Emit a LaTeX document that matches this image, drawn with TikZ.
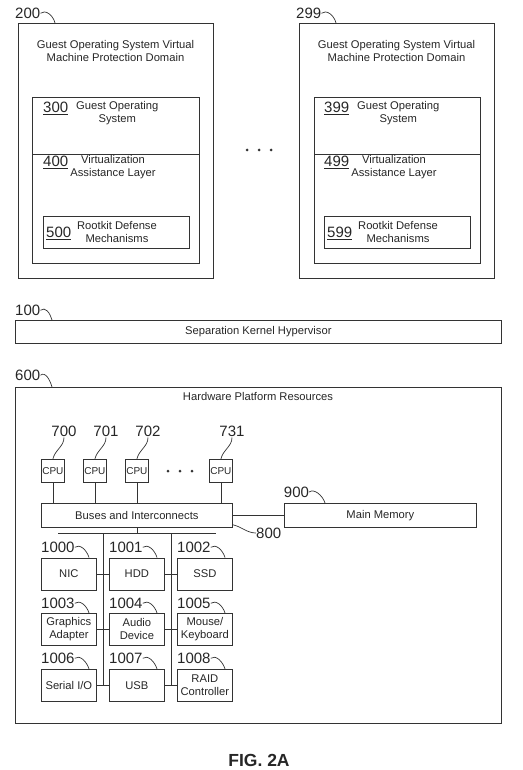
\documentclass[tikz,border=0pt]{standalone}
\usepackage{fontspec}
\setmainfont{Liberation Sans}
\begin{document}
\begin{tikzpicture}[x=1pt,y=-1pt]
\tikzset{
  ln/.style={line width=0.75pt, draw=black!80},
  bx/.style={ln, inner sep=0pt, anchor=north west, align=center,
     font=\fontsize{11.2}{13}\selectfont, text=black!85},
  txt/.style={font=\fontsize{11.2}{12.5}\selectfont, align=center, inner sep=0pt, text=black!85},
  num/.style={font=\fontsize{15}{16}\selectfont, inner sep=0pt, text=black!85},
  cpubox/.style={bx, minimum width=23pt, minimum height=23pt, font=\fontsize{10}{11}\selectfont},
  dev/.style={bx, minimum width=55pt, minimum height=32pt},
  lead/.style={ln, line width=0.7pt},
}
\useasboundingbox (0,0) rectangle (522,770);

% ---------- protection domain 200 ----------
\node[bx, minimum width=195pt, minimum height=255pt] (d200) at (18,23) {};
\node[num, anchor=base west] (n200) at (15,18.4) {200};
\draw[lead] (n200.east) .. controls +(5,-4) and +(-2,-8) .. ([xshift=37pt]d200.north west);
\node[txt] (t200) at (115.5,51) {Guest Operating System Virtual\\Machine Protection Domain};
\node[bx, minimum width=167pt, minimum height=57pt] (os300) at (32,97) {};
\node[bx, minimum width=167pt, minimum height=109pt] (va400) at (32,154) {};
\node[num, anchor=base west] (n300) at (43,112.4) {\underline{300}};
\node[txt, anchor=north west] (os300t) at (76,101.5) {Guest Operating\\System};
\node[num, anchor=base west] (n400) at (43,166.5) {\underline{400}};
\node[txt] (va400t) at (113,167) {Virtualization\\Assistance Layer};
\node[bx, minimum width=146pt, minimum height=32pt] (rk500) at (43,216) {};
\node[num, anchor=base west] (n500) at (46,237.4) {\underline{500}};
\node[txt] (rk500t) at (117,232) {Rootkit Defense\\Mechanisms};

% ---------- protection domain 299 ----------
\node[bx, minimum width=195pt, minimum height=255pt] (d299) at (299,23) {};
\node[num, anchor=base west] (n299) at (296,18.4) {299};
\draw[lead] (n299.east) .. controls +(5,-4) and +(-2,-8) .. ([xshift=37pt]d299.north west);
\node[txt] (t299) at (396.5,51) {Guest Operating System Virtual\\Machine Protection Domain};
\node[bx, minimum width=166pt, minimum height=57pt] (os399) at (314,97) {};
\node[bx, minimum width=166pt, minimum height=109pt] (va499) at (314,154) {};
\node[num, anchor=base west] (n399) at (324,112.4) {\underline{399}};
\node[txt, anchor=north west] (os399t) at (357,101.5) {Guest Operating\\System};
\node[num, anchor=base west] (n499) at (324,166.5) {\underline{499}};
\node[txt] (va499t) at (394,167) {Virtualization\\Assistance Layer};
\node[bx, minimum width=146pt, minimum height=32pt] (rk599) at (324,216) {};
\node[num, anchor=base west] (n599) at (327,237.4) {\underline{599}};
\node[txt] (rk599t) at (398,232) {Rootkit Defense\\Mechanisms};

% dots between domains
\foreach \x in {247,259,271} \fill[black!80] (\x,150) circle (1.5pt);

% ---------- separation kernel hypervisor ----------
\node[bx, minimum width=486pt, minimum height=23pt] (skh) at (15,320) {Separation Kernel Hypervisor};
\node[num, anchor=base west] (n100) at (15,315.4) {100};
\draw[lead] (n100.east) .. controls +(5,-4) and +(-2,-7) .. ([xshift=37pt]skh.north west);

% ---------- hardware platform ----------
\node[bx, minimum width=486pt, minimum height=336pt] (hw) at (15,387) {};
\node[num, anchor=base west] (n600) at (15,380.4) {600};
\draw[lead] (n600.east) .. controls +(5,-4) and +(-2,-7) .. ([xshift=37pt]hw.north west);
\node[txt] (hwt) at (258,396) {Hardware Platform Resources};

% CPUs
\node[cpubox] (c700) at (41,459) {CPU};
\node[cpubox] (c701) at (83,459) {CPU};
\node[cpubox] (c702) at (125,459) {CPU};
\node[cpubox] (c731) at (209,459) {CPU};
\node[num] (n700) at (64,431) {700};
\node[num] (n701) at (106,431) {701};
\node[num] (n702) at (148,431) {702};
\node[num] (n731) at (232,431) {731};
\foreach \c in {700,701,702,731}
  \draw[lead] ([yshift=-1pt]n\c.south) .. controls +(0,9) and +(2,-9) .. (c\c.north);
\foreach \x in {168,180,192} \fill[black!80] (\x,471) circle (1.5pt);

% buses and memory
\node[bx, minimum width=191pt, minimum height=24pt] (bus) at (41,503) {Buses and Interconnects};
\node[bx, minimum width=192pt, minimum height=24pt] (mem) at (284,503) {Main Memory};
\foreach \c in {700,701,702,731}
  \draw[ln] (c\c.south) -- (c\c.south |- bus.north);
\draw[ln] (bus.east) -- (mem.west);
\node[num] (n900) at (296.5,492) {900};
\draw[lead] (n900.east) .. controls +(5,-4) and +(-2,-7) .. ([xshift=41pt]mem.north west);
\node[num, anchor=west] (n800) at (256,533) {800};
\draw[lead] ([yshift=3pt]bus.south east) .. controls +(9,2) and +(-9,0) .. (n800.west);

% fan-out below bus
\coordinate (fl) at (58,533);
\coordinate (fr) at (216,533);
\draw[ln] (bus.south) -- (bus.south |- fl);
\draw[ln] (fl) -- (fr);

% devices
\node[dev] (d1000) at (41,557.5) {NIC};
\node[dev] (d1001) at (109,557.5) {HDD};
\node[dev] (d1002) at (177,557.5) {SSD};
\node[dev] (d1003) at (41,613) {Graphics\\Adapter};
\node[dev] (d1004) at (109,613) {Audio\\Device};
\node[dev] (d1005) at (177,613) {Mouse/\\Keyboard};
\node[dev] (d1006) at (41,669) {Serial I/O};
\node[dev] (d1007) at (109,669) {USB};
\node[dev] (d1008) at (177,669) {RAID\\Controller};
\foreach \d/\x/\y in {1000/41/547,1001/109/547,1002/177/547,1003/41/603,1004/109/603,1005/177/603,1006/41/658,1007/109/658,1008/177/658}{
  \node[num, anchor=base west] (n\d) at (\x,\y+5.4) {\d};
  \draw[lead] (n\d.east) .. controls +(5,-4) and +(-2,-7) .. ([xshift=48pt]d\d.north west);
}
% vertical bus lines
\coordinate (v1t) at (103,533);
\coordinate (v2t) at (171,533);
\draw[ln] (v1t) -- (v1t |- d1006.east);
\draw[ln] (v2t) -- (v2t |- d1007.east);
\draw[ln] (d1000.east) -- (d1001.west);
\draw[ln] (d1001.east) -- (d1002.west);
\draw[ln] (d1003.east) -- (d1004.west);
\draw[ln] (d1004.east) -- (d1005.west);
\draw[ln] (d1006.east) -- (d1007.west);
\draw[ln] (d1007.east) -- (d1008.west);

% caption
\node[font=\bfseries\fontsize{17.5}{20}\selectfont, text=black!85, inner sep=0pt] (fig) at (259,760) {FIG. 2A};
\end{tikzpicture}
\end{document}
